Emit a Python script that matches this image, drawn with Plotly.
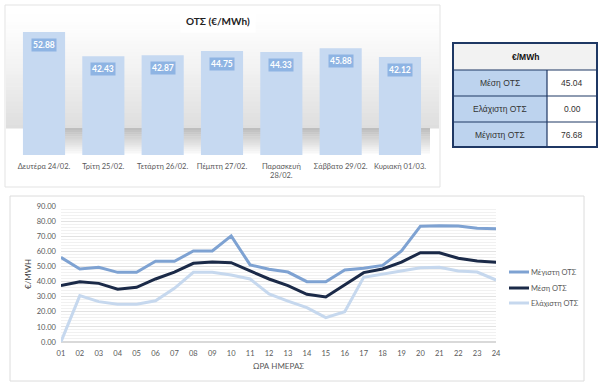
import plotly.graph_objects as go

# ---------------- data ----------------
days = ["Δευτέρα 24/02.", "Τρίτη 25/02.", "Τετάρτη 26/02.", "Πέμπτη 27/02.",
        "Παρασκευή<br>28/02.", "Σάββατο 29/02.", "Κυριακή 01/03."]
day_ots = [52.88, 42.43, 42.87, 44.75, 44.33, 45.88, 42.12]

hours = ["%02d" % h for h in range(1, 25)]
max_ots = [56.0, 48.3, 49.4, 46.1, 46.1, 53.4, 53.4, 60.2, 60.2, 70.2, 51.0, 48.1,
           46.3, 39.9, 39.9, 47.6, 48.8, 50.7, 60.2, 76.68, 76.9, 76.8, 75.2, 75.0]
mean_ots = [37.3, 39.9, 38.8, 34.9, 36.2, 41.7, 46.3, 52.1, 52.9, 52.5, 47.0, 41.7,
            37.3, 31.6, 29.8, 38.0, 45.9, 48.3, 52.9, 59.1, 59.1, 55.4, 53.6, 52.7]
min_ots = [0.0, 30.7, 26.7, 25.0, 25.0, 27.3, 35.5, 46.1, 46.1, 44.3, 41.7, 31.8,
           27.1, 22.7, 16.1, 20.1, 42.8, 45.0, 47.2, 49.2, 49.4, 47.0, 46.3, 41.0]

table_header = "€/MWh"
table_labels = ["Μέση ΟΤΣ", "Ελάχιστη ΟΤΣ", "Μέγιστη ΟΤΣ"]
table_values = [45.04, 0.00, 76.68]

series_names = ["Μέγιστη ΟΤΣ", "Μέση ΟΤΣ", "Ελάχιστη ΟΤΣ"]
series_colors = ["#7EA2D2", "#1B2A48", "#C6D8EE"]

W, H = 605, 390
def PX(x):
    return x / W
def PY(y):
    return 1 - y / H

FONT = "Lato"
GRAY = "#595959"

fig = go.Figure()

# ---------------- bar chart ----------------
fig.add_trace(go.Bar(x=days, y=day_ots, marker=dict(color="#C6D9F1", line=dict(width=0)),
                     xaxis="x", yaxis="y", showlegend=False, hoverinfo="x+y"))

# ---------------- line chart ----------------
for name, vals, col in zip(series_names, [max_ots, mean_ots, min_ots], series_colors):
    fig.add_trace(go.Scatter(x=hours, y=vals, mode="lines", name=name, showlegend=False,
                             line=dict(color=col, width=3), xaxis="x2", yaxis="y2"))

shapes = []
annotations = []

def note(x, y, text, size, color, xanchor="center", yanchor="middle", **kw):
    annotations.append(dict(xref="paper", yref="paper", x=PX(x), y=PY(y), text=text,
                            showarrow=False, xanchor=xanchor, yanchor=yanchor,
                            font=dict(family=kw.pop("family", FONT), size=size, color=color), **kw))

# panel borders
shapes.append(dict(type="rect", xref="paper", yref="paper", x0=PX(5), x1=PX(440),
                   y0=PY(187), y1=PY(5), line=dict(color="#E3E3E3", width=1), layer="below"))
shapes.append(dict(type="rect", xref="paper", yref="paper", x0=PX(10), x1=PX(584),
                   y0=PY(381), y1=PY(196), line=dict(color="#DCDCDC", width=1), layer="below"))

# gradient background behind bars
n = 30
top, bot = 14, 128
for i in range(n):
    y0 = top + (bot - top) * i / n
    y1 = top + (bot - top) * (i + 1) / n
    t = (i + 0.5) / n
    g = int(255 - 33 * t ** 1.3)
    shapes.append(dict(type="rect", xref="paper", yref="paper", x0=PX(6), x1=PX(439),
                       y0=PY(y1 + 0.5), y1=PY(y0), fillcolor="rgb(%d,%d,%d)" % (g, g, g),
                       line=dict(width=0), layer="below"))
# floor shadow
m = 12
s0, s1 = 128, 153
for i in range(m):
    y0 = s0 + (s1 - s0) * i / m
    y1 = s0 + (s1 - s0) * (i + 1) / m
    t = (i + 0.5) / m
    g = int(188 + 62 * t)
    shapes.append(dict(type="rect", xref="paper", yref="paper", x0=PX(60), x1=PX(430),
                       y0=PY(y1 + 0.5), y1=PY(y0), fillcolor="rgb(%d,%d,%d)" % (g, g, g),
                       line=dict(width=0), layer="below"))

# bar title
note(218, 21, "<b>ΟΤΣ (€/MWh)</b>", 10, "#222222", bgcolor="white", borderpad=5)

# bar data labels
for d, v in zip(days, day_ots):
    annotations.append(dict(xref="x", yref="y", x=d, y=v, text="<b>%.2f</b>" % v, showarrow=False,
                            xanchor="center", yanchor="top", yshift=-6, bgcolor="#8EB4E3",
                            borderpad=1, font=dict(family=FONT, size=8.5, color="white")))

# table
tx0, tx1, tsplit = 453, 597, 547
rows_y = [43, 70, 96, 122, 147]
navy = "#1F3864"
shapes.append(dict(type="rect", xref="paper", yref="paper", x0=PX(tx0), x1=PX(tx1),
                   y0=PY(rows_y[1]), y1=PY(rows_y[0]), fillcolor="#F2F2F2",
                   line=dict(color="#F2F2F2", width=0.1)))
for i in range(3):
    shapes.append(dict(type="rect", xref="paper", yref="paper", x0=PX(tx0), x1=PX(tsplit),
                       y0=PY(rows_y[i + 2]), y1=PY(rows_y[i + 1]), fillcolor="#BDD3EE",
                       line=dict(color="#BDD3EE", width=0.1)))
for yy in rows_y[1:-1]:
    shapes.append(dict(type="line", xref="paper", yref="paper", x0=PX(tx0), x1=PX(tx1),
                       y0=PY(yy), y1=PY(yy), line=dict(color=navy, width=1.2)))
shapes.append(dict(type="line", xref="paper", yref="paper", x0=PX(tsplit), x1=PX(tsplit),
                   y0=PY(rows_y[-1]), y1=PY(rows_y[1]), line=dict(color=navy, width=1.2)))
shapes.append(dict(type="rect", xref="paper", yref="paper", x0=PX(tx0), x1=PX(tx1),
                   y0=PY(rows_y[-1]), y1=PY(rows_y[0]), line=dict(color=navy, width=2)))

note((tx0 + tx1) / 2, (rows_y[0] + rows_y[1]) / 2, "<b>%s</b>" % table_header, 8.5, "#111111",
     family="Liberation Sans")
for i, (lab, val) in enumerate(zip(table_labels, table_values)):
    yc = (rows_y[i + 1] + rows_y[i + 2]) / 2
    note((tx0 + tsplit) / 2, yc, lab, 8.5, "#333333", family="Liberation Sans")
    note((tsplit + tx1) / 2, yc, "%.2f" % val, 8.5, "#333333", family="Liberation Sans")

# line chart titles
note(278, 366, "ΩΡΑ ΗΜΕΡΑΣ", 8, GRAY)
note(28, 274, "€/MWH", 8, "#404040", textangle=-90)

# custom legend
leg_y = [272, 288, 303]
for name, col, yy in zip(series_names, series_colors, leg_y):
    shapes.append(dict(type="line", xref="paper", yref="paper", x0=PX(509), x1=PX(529),
                       y0=PY(yy), y1=PY(yy), line=dict(color=col, width=3)))
    note(529, yy, name, 7.5, GRAY, xanchor="left")

fig.update_layout(
    width=W, height=H, margin=dict(l=0, r=0, t=0, b=0, autoexpand=False),
    paper_bgcolor="white", plot_bgcolor="rgba(0,0,0,0)",
    font=dict(family=FONT, color=GRAY),
    bargap=0.29, showlegend=False,
    xaxis=dict(domain=[PX(14.35), PX(429.65)], anchor="y", showgrid=False, showline=False,
               zeroline=False, ticks="", tickangle=0, automargin=False, ticklabelstandoff=5,
               tickfont=dict(size=7.5, color=GRAY, family=FONT)),
    yaxis=dict(domain=[PY(155), PY(20)], anchor="x", range=[0, 58.05], visible=False),
    xaxis2=dict(domain=[PX(60.9), PX(496.1)], anchor="y2", showgrid=False, showline=False,
                zeroline=False, ticks="", tickangle=0, automargin=False, ticklabelstandoff=5,
                tickfont=dict(size=7.5, color=GRAY, family=FONT)),
    yaxis2=dict(domain=[PY(342), PY(206)], anchor="x2", range=[0, 90], dtick=10,
                tickformat=".2f", showgrid=True, gridcolor="#E2E2E2", gridwidth=1,
                zeroline=True, zerolinecolor="#D9D9D9", showline=False, ticks="",
                automargin=False, ticklabelstandoff=4,
                tickfont=dict(size=7.5, color=GRAY, family=FONT),
                minor=dict(dtick=2, showgrid=True, gridcolor="#F1F1F1", gridwidth=1)),
    shapes=shapes, annotations=annotations,
)

fig.write_html("out.html", config={"displayModeBar": False},
               post_script="document.body.style.margin='0';document.body.style.overflow='hidden';")
